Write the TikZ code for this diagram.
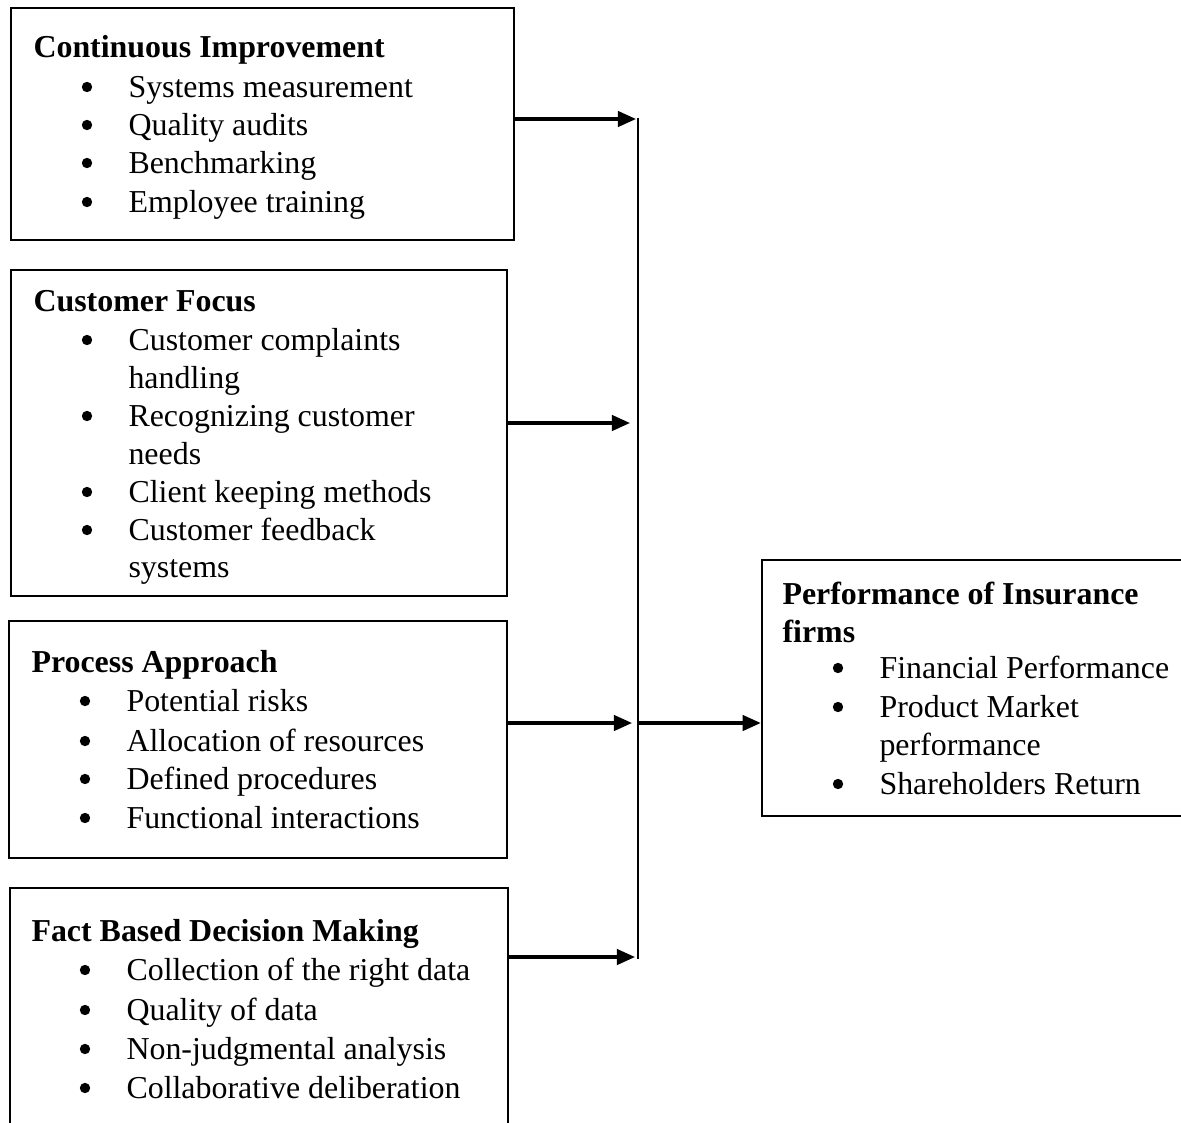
\documentclass[tikz,border=0pt]{standalone}
\usepackage{fontspec}
\setmainfont{Liberation Serif}
\usetikzlibrary{arrows.meta,fit}
\newcommand\bitem[5]{\node[bul] (#1b) at (#2,#4-10) {}; \node[itm] (#1) at (#3,#4) {#5};}
\newcommand\citem[4]{\node[itm] (#1) at (#2,#3) {#4};}
\begin{document}
\begin{tikzpicture}[x=0.3762pt,y=-0.3762pt,
  box/.style={draw, line width=0.95pt, inner sep=0pt},
  head/.style={anchor=base west, inner sep=0pt, font=\fontsize{12}{14}\selectfont\bfseries},
  itm/.style={anchor=base west, inner sep=0pt, font=\fontsize{12}{14}\selectfont},
  bul/.style={circle, fill, inner sep=0pt, minimum size=3.9pt},
  arr/.style={line width=1.15pt, -{Triangle[length=6.8pt,width=5.8pt]}},
  bus/.style={line width=0.6pt},
]
\useasboundingbox (0,0) rectangle (1181,1123);

% Box 1
\node[box, fit={(11,8)(514,240)}] (ci) {};
\node[head] (cih) at (33,57) {Continuous Improvement};
\bitem{ci1}{87}{128}{97}{Systems measurement}
\bitem{ci2}{87}{128}{135}{Quality audits}
\bitem{ci3}{87}{128}{173}{Benchmarking}
\bitem{ci4}{87}{128}{212}{Employee training}

% Box 2
\node[box, fit={(11,270)(507,596)}] (cf) {};
\node[head] (cfh) at (33,311) {Customer Focus};
\bitem{cf1}{87}{128}{350}{Customer complaints}
\citem{cf1a}{128}{388}{handling}
\bitem{cf2}{87}{128}{426}{Recognizing customer}
\citem{cf2a}{128}{464}{needs}
\bitem{cf3}{87}{128}{502}{Client keeping methods}
\bitem{cf4}{87}{128}{540}{Customer feedback}
\citem{cf4a}{128}{577}{systems}

% Box 3
\node[box, fit={(9,621)(507,858)}] (pa) {};
\node[head] (pah) at (31,672) {Process Approach};
\bitem{pa1}{85}{126}{711}{Potential risks}
\bitem{pa2}{85}{126}{751}{Allocation of resources}
\bitem{pa3}{85}{126}{789}{Defined procedures}
\bitem{pa4}{85}{126}{828}{Functional interactions}

% Box 4
\node[box, fit={(10,888)(508,1150)}] (fb) {};
\node[head] (fbh) at (31,941) {Fact Based Decision Making};
\bitem{fb1}{85}{126}{980}{Collection of the right data}
\bitem{fb2}{85}{126}{1020}{Quality of data}
\bitem{fb3}{85}{126}{1059}{Non-judgmental analysis}
\bitem{fb4}{85}{126}{1098}{Collaborative deliberation}

% Right box
\node[box, fit={(762,560)(1200,816)}] (pf) {};
\node[head] (pfh) at (782,604) {Performance of Insurance};
\node[head] (pfh2) at (782,642) {firms};
\bitem{pf1}{838}{879}{678}{Financial Performance}
\bitem{pf2}{838}{879}{717}{Product Market}
\citem{pf2a}{879}{755}{performance}
\bitem{pf3}{838}{879}{794}{Shareholders Return}

% Connectors
\coordinate (t1) at (636,119);
\coordinate (t2) at (630,423);
\coordinate (t3) at (632,723);
\coordinate (t4) at (635,957);
\coordinate (j1) at (638,118);
\coordinate (j3) at (638,723);
\coordinate (j4) at (638,959);
\draw[bus] (j1) -- (j4);
\draw[arr] (ci.east |- t1) -- (t1);
\draw[arr] (cf.east |- t2) -- (t2);
\draw[arr] (pa.east |- t3) -- (t3);
\draw[arr] (fb.east |- t4) -- (t4);
\draw[arr] (j3) -- (pf.west |- j3);
\end{tikzpicture}
\end{document}
